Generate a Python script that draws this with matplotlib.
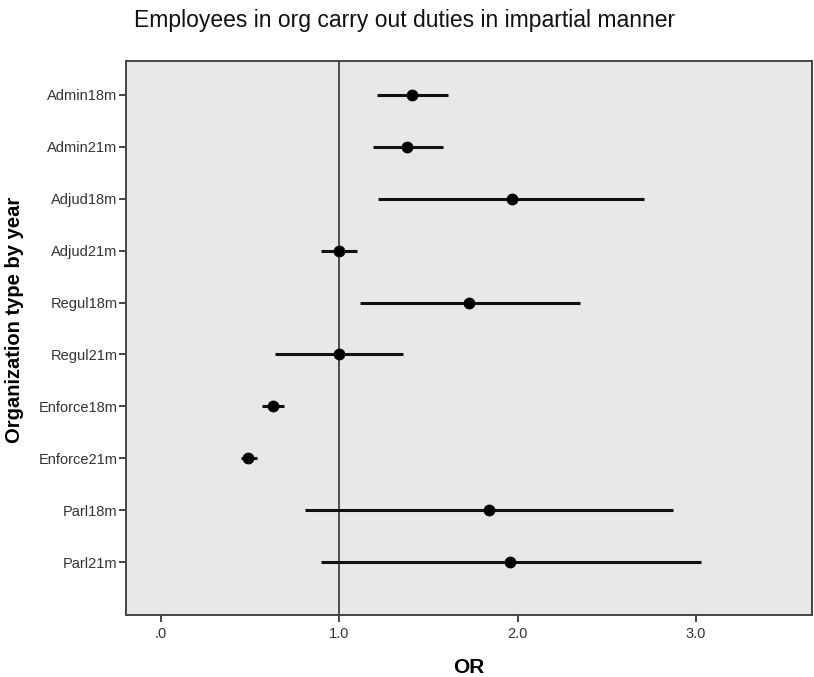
import matplotlib.pyplot as plt

groups = ['Admin18m', 'Admin21m', 'Adjud18m', 'Adjud21m', 'Regul18m',
          'Regul21m', 'Enforce18m', 'Enforce21m', 'Parl18m', 'Parl21m']
odds_ratio = [1.41, 1.38, 1.97, 1.00, 1.73, 1.00, 0.63, 0.49, 1.84, 1.96]
ci_low = [1.21, 1.19, 1.22, 0.90, 1.12, 0.64, 0.57, 0.45, 0.81, 0.90]
ci_high = [1.61, 1.58, 2.71, 1.10, 2.35, 1.36, 0.69, 0.54, 2.87, 3.03]
x_ticks = [0.0, 1.0, 2.0, 3.0]
x_tick_labels = ['.0', '1.0', '2.0', '3.0']


def main():
    plt.rcParams['font.family'] = ['Liberation Sans', 'DejaVu Sans']

    fig = plt.figure(figsize=(8.14, 6.77), dpi=100)
    ax = fig.add_axes([0.1548, 0.0916, 0.8427, 0.8183])
    ax.set_facecolor('#e8e8e8')

    pos = list(range(1, len(groups) + 1))

    # reference line at OR = 1
    ax.axvline(1.0, color='#222222', linewidth=1.1, zorder=1)

    ax.hlines(pos, ci_low, ci_high, color='#111111', linewidth=2.2, zorder=2)
    ax.plot(odds_ratio, pos, 'o', color='black', markersize=7.5, zorder=3)

    ax.set_xlim(-0.194, 3.65)
    ax.set_ylim(11.02, 0.345)
    ax.set_xticks(x_ticks)
    ax.set_xticklabels(x_tick_labels)
    ax.set_yticks(pos)
    ax.set_yticklabels(groups)

    for side in ['left', 'bottom', 'top', 'right']:
        ax.spines[side].set_color('#444444')
        ax.spines[side].set_linewidth(1.4)

    ax.tick_params(axis='both', direction='out', length=5, width=1.4,
                   color='#444444', labelsize=10.5, labelcolor='#333333')
    ax.tick_params(axis='y', pad=1)
    ax.tick_params(axis='x', pad=4)

    ax.set_xlabel('OR', fontsize=15, fontweight='bold', labelpad=12)
    ax.set_ylabel('Organization type by year', fontsize=14.5, fontweight='bold')
    ax.yaxis.set_label_coords(-0.149, 0.532)
    fig.text(0.165, 0.969, 'Employees in org carry out duties in impartial manner',
             fontsize=16.5, ha='left', va='center', color='#111111')

    fig.savefig('out.png', dpi=100)


if __name__ == "__main__":
    main()
